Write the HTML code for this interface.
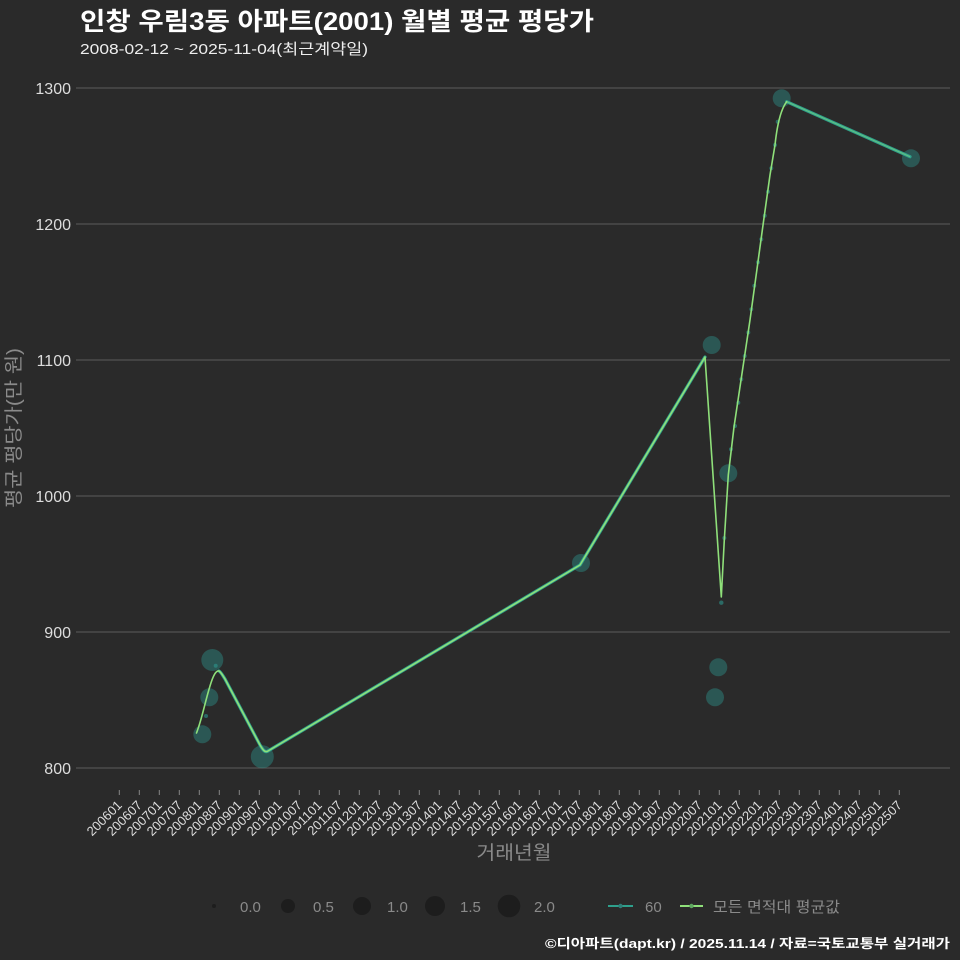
<!DOCTYPE html>
<html><head><meta charset="utf-8"><style>
html,body{margin:0;padding:0;background:#2a2a2a;}
svg{display:block;}
text{font-family:"Liberation Sans","Noto Sans CJK KR",sans-serif;}
</style></head><body>
<svg width="960" height="960" viewBox="0 0 960 960" xmlns="http://www.w3.org/2000/svg">
<rect width="960" height="960" fill="#2a2a2a"/>
<text x="80" y="30" font-size="25" font-weight="bold" fill="#ffffff" textLength="514" lengthAdjust="spacingAndGlyphs">인창 우림3동 아파트(2001) 월별 평균 평당가</text>
<text x="80" y="54" font-size="15" fill="#eeeeee" textLength="288" lengthAdjust="spacingAndGlyphs">2008-02-12 ~ 2025-11-04(최근계약일)</text>

<g stroke="#5c5c5c" stroke-width="1">
<line x1="76" y1="88" x2="950" y2="88"/>
<line x1="76" y1="224" x2="950" y2="224"/>
<line x1="76" y1="360" x2="950" y2="360"/>
<line x1="76" y1="496" x2="950" y2="496"/>
<line x1="76" y1="632" x2="950" y2="632"/>
<line x1="76" y1="768" x2="950" y2="768"/>
</g>
<g font-size="16" fill="#dddddd" text-anchor="end">
<text x="71" y="94">1300</text>
<text x="71" y="230">1200</text>
<text x="71" y="366">1100</text>
<text x="71" y="502">1000</text>
<text x="71" y="638">900</text>
<text x="71" y="774">800</text>
</g>
<text transform="translate(20,428) rotate(-90)" font-size="19" fill="#8a8a8a" text-anchor="middle" textLength="160" lengthAdjust="spacingAndGlyphs">평균 평당가(만 원)</text>

<g id="xt" stroke="#888" stroke-width="1"></g>
<g id="xl" font-size="13" fill="#dddddd" text-anchor="end"></g>
<text x="514" y="859" font-size="19" fill="#8a8a8a" text-anchor="middle" textLength="75" lengthAdjust="spacingAndGlyphs">거래년월</text>

<!-- points -->
<g fill="rgb(45,150,142)" fill-opacity="0.42">
<circle cx="202.3" cy="734.3" r="9"/>
<circle cx="209.3" cy="697.3" r="9"/>
<circle cx="212.3" cy="660" r="11"/>
<circle cx="262.3" cy="756.7" r="11.5"/>
<circle cx="581" cy="563" r="9"/>
<circle cx="711.7" cy="345" r="9"/>
<circle cx="715" cy="697.3" r="9"/>
<circle cx="718.3" cy="667.3" r="9"/>
<circle cx="728.3" cy="473.3" r="9"/>
<circle cx="781.7" cy="98.3" r="9"/>
<circle cx="911" cy="158.3" r="9"/>
</g>
<g fill="rgb(45,150,142)" fill-opacity="0.6">
<circle cx="206" cy="716" r="2"/>
<circle cx="215.7" cy="665.7" r="2"/>
<circle cx="721.3" cy="602.7" r="2.2"/>
<circle cx="724.3" cy="538" r="2"/>
<circle cx="731" cy="449.3" r="2"/>
<circle cx="735" cy="426" r="2"/>
<circle cx="738.3" cy="402.7" r="2"/>
<circle cx="741.3" cy="379.3" r="2"/>
<circle cx="744.7" cy="356" r="2"/>
<circle cx="748.3" cy="332.5" r="2"/>
<circle cx="751.3" cy="309.3" r="2"/>
<circle cx="754.3" cy="285.7" r="2"/>
<circle cx="758" cy="262.3" r="2"/>
<circle cx="761.3" cy="239.3" r="2"/>
<circle cx="764.7" cy="215.7" r="2"/>
<circle cx="768" cy="191.7" r="2"/>
<circle cx="771.3" cy="168.3" r="2"/>
<circle cx="775" cy="145" r="2"/>
<circle cx="777.7" cy="121.7" r="2"/>
</g>

<!-- teal 60 line -->
<g fill="none" stroke="#2ea08c" stroke-width="3.2" stroke-linejoin="round" stroke-linecap="round">
<path d="M219,671 C221,672 223,676 225,679 L260,745 C263,750 265,753 268,751 L580,565 L705,357"/>
<path d="M786.7,101.7 L910,156.7"/>
</g>
<!-- green average line -->
<g fill="none" stroke="#8fe07a" stroke-width="1.6" stroke-linejoin="round" stroke-linecap="round">
<path d="M196.5,733 C202,719 205,702 210,686 C213,676 216,670 219,671 C221,672 223,676 225,679 L260,745 C263,750 265,753 268,751 L580,565 L705,357 L721.3,597 L724.3,540 L728.3,475 L734,427 L750,320 L763.3,223 L770,175 L775,145 Q778.5,112 786.7,101.7"/>
</g>
<path d="M786.7,101.7 L910,156.7" fill="none" stroke="#8fe07a" stroke-width="1.2" stroke-opacity="0.5"/>

<!-- legend -->
<g fill="#1d1d1d">
<circle cx="214" cy="906" r="2"/>
<circle cx="288" cy="906" r="7"/>
<circle cx="362" cy="906" r="9"/>
<circle cx="435" cy="906" r="10"/>
<circle cx="509" cy="906" r="11.3"/>
</g>
<g font-size="15" fill="#8a8a8a">
<text x="240" y="912">0.0</text>
<text x="313" y="912">0.5</text>
<text x="387" y="912">1.0</text>
<text x="460" y="912">1.5</text>
<text x="534" y="912">2.0</text>
<text x="645" y="912">60</text>
<text x="713" y="912" textLength="127" lengthAdjust="spacingAndGlyphs">모든 면적대 평균값</text>
</g>
<line x1="608" y1="906" x2="633" y2="906" stroke="#2ea08c" stroke-width="2"/>
<circle cx="620.5" cy="906" r="2.2" fill="#2e7f78"/>
<line x1="680" y1="906" x2="703" y2="906" stroke="#8fe07a" stroke-width="2"/>
<circle cx="691.5" cy="906" r="2.2" fill="#5fa860"/>

<text x="950" y="948" font-size="13" font-weight="bold" fill="#ffffff" text-anchor="end" textLength="405" lengthAdjust="spacingAndGlyphs">©디아파트(dapt.kr) / 2025.11.14 / 자료=국토교통부 실거래가</text>
</svg>
<script>
(function(){
var ns="http://www.w3.org/2000/svg";
var xt=document.getElementById("xt"), xl=document.getElementById("xl");
for(var i=0;i<40;i++){
  var x=119.3+20*i;
  var l=document.createElementNS(ns,"line");
  l.setAttribute("x1",x);l.setAttribute("x2",x);l.setAttribute("y1",790);l.setAttribute("y2",795);
  xt.appendChild(l);
  var yr=2006+Math.floor(i/2), mo=(i%2==0)?"01":"07";
  var t=document.createElementNS(ns,"text");
  t.setAttribute("transform","translate("+(x+3.5)+",806) rotate(-45)");
  t.textContent=yr+mo;
  xl.appendChild(t);
}
})();
</script>
</body></html>
